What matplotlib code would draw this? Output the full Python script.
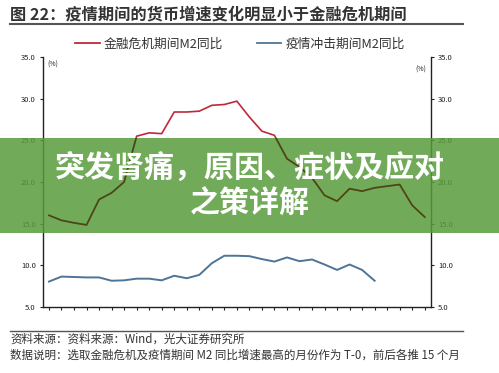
import matplotlib
matplotlib.use("Agg")
import matplotlib.pyplot as plt
from matplotlib.patches import Rectangle
from matplotlib.lines import Line2D
import numpy as np

plt.rcParams['font.family'] = ['Noto Sans CJK SC', 'DejaVu Sans']

title = "图 22：疫情期间的货币增速变化明显小于金融危机期间"
legend_labels = ["金融危机期间M2同比", "疫情冲击期间M2同比"]
months = list(range(-15, 16))
tick_months = list(range(-15, 16, 3))
tick_labels = ["T-15", "T-12", "T-9", "T-6", "T-3", "T-0", "T+3", "T+6", "T+9", "T+12", "T+15"]
yticks = [5.0, 10.0, 15.0, 20.0, 25.0, 30.0, 35.0]

fin_crisis = [16.0, 15.4, 15.1, 14.85, 17.9, 18.7, 20.0, 25.5, 25.9, 25.8,
              28.4, 28.4, 28.5, 29.2, 29.3, 29.7, 27.8, 26.1, 25.6, 22.8,
              21.8, 20.5, 18.4, 17.7, 19.2, 18.9, 19.3, 19.5, 19.7, 17.2, 15.8]
covid = [8.05, 8.65, 8.6, 8.55, 8.55, 8.15, 8.2, 8.4, 8.4, 8.2,
         8.75, 8.45, 8.85, 10.25, 11.15, 11.15, 11.1, 10.75, 10.45, 10.95,
         10.5, 10.7, 10.1, 9.45, 10.1, 9.45, 8.15]

source_text = "资料来源：资料来源：Wind，光大证券研究所"
note_text = "数据说明：选取金融危机及疫情期间 M2 同比增速最高的月份作为 T-0，前后各推 15 个月"
banner_lines = "突发肾痛，原因、症状及应对\n之策详解"

red = "#c0283a"
blue = "#4e7498"

W, H = 499, 373
fig = plt.figure(figsize=(W / 100, H / 100), dpi=100)
fig.patch.set_facecolor("white")

axpos = [42.7 / W, (H - 307) / H, (431 - 42.7) / W, (307 - 57) / H]
ax = fig.add_axes(axpos)
ax.plot(months, fin_crisis, color=red, lw=1.2)
ax.plot(months[:len(covid)], covid, color=blue, lw=1.4)
ax.set_xlim(-15.5, 15.5)
ax.set_ylim(5, 35)
ax.set_xticks(months, minor=False)
ax.set_xticklabels(["" for _ in months])
ax.set_xticks(tick_months, minor=True)
ax.set_xticklabels(tick_labels, minor=True)
ax.tick_params(axis='x', which='major', direction='out', length=2.5, width=0.8, colors='#222')
ax.tick_params(axis='x', which='minor', length=0, pad=3, labelsize=6, labelcolor='#222')
ax.set_yticks(yticks)
ax.set_yticklabels([f"{v:.1f}" for v in yticks])
ax.tick_params(axis='y', direction='out', length=2, width=0.8, labelsize=5.5, pad=3,
               colors='#222', right=True, labelright=True)
for s in ['top']:
    ax.spines[s].set_visible(False)
for s in ['left', 'right', 'bottom']:
    ax.spines[s].set_color('#222')
    ax.spines[s].set_linewidth(1.0)
ax.text(0.012, 0.985, "(%)", transform=ax.transAxes, fontsize=5, va='top', ha='left', color='#222')
ax.text(0.988, 0.965, "(%)", transform=ax.transAxes, fontsize=5, va='top', ha='right', color='#222')

# legend
handles = [Line2D([], [], color=red, lw=1.3), Line2D([], [], color=blue, lw=1.3)]
fig.legend(handles, legend_labels, loc='center', bbox_to_anchor=(240 / W, (H - 44) / H),
           ncol=2, frameon=False, fontsize=9.2, handlelength=1.9, columnspacing=2.6,
           handletextpad=0.35, labelcolor='#333')

# title
fig.text(10 / W, (H - 14) / H, title, fontsize=11.7, fontweight='bold', color='#333',
         va='center', ha='left')
fig.add_artist(Line2D([10 / W, 463 / W], [(H - 24) / H] * 2, color='#555', lw=1.5,
                      transform=fig.transFigure))

# footer
fig.add_artist(Line2D([10 / W, 463 / W], [(H - 331) / H] * 2, color='#555', lw=1.0,
                      transform=fig.transFigure))
fig.text(10 / W, (H - 339) / H, source_text, fontsize=8.3, color='#333', va='center', ha='left')
fig.text(10 / W, (H - 355) / H, note_text, fontsize=8.3, color='#333', va='center', ha='left')

# banner overlay
band_y0, band_y1 = (H - 233) / H, (H - 138) / H
band = Rectangle((0, band_y0), 1, band_y1 - band_y0, transform=fig.transFigure,
                 facecolor='#589c3c', alpha=0.85, edgecolor='none', zorder=1)
fig.add_artist(band)

ax2 = fig.add_axes(axpos, zorder=2)
ax2.set_xlim(ax.get_xlim())
ax2.set_ylim(ax.get_ylim())
ax2.axis('off')
clip = Rectangle((0, band_y0), 1, band_y1 - band_y0, transform=fig.transFigure)
ln, = ax2.plot(months, fin_crisis, color='#4d4418', lw=1.2)
ln.set_clip_path(clip)

fig.text(0.5, (H - 186) / H, banner_lines, fontsize=21.6, fontweight='heavy', color='white',
         ha='center', va='center', linespacing=1.2, zorder=5)

fig.savefig("out.png", dpi=100)
